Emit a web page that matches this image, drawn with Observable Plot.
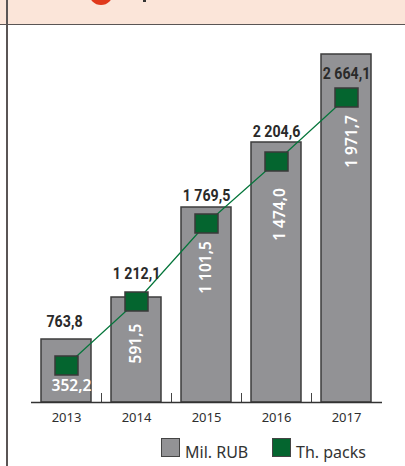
<!DOCTYPE html>
<html><head><meta charset="utf-8">
<script src="https://cdn.jsdelivr.net/npm/d3@7"></script>
<script src="https://cdn.jsdelivr.net/npm/@observablehq/plot@0.6"></script>
<style>
html,body{margin:0;padding:0;background:#fff;overflow:hidden}
#page{position:relative;width:405px;height:466px;overflow:hidden}
#band{position:absolute;left:0;top:0;width:405px;height:24px;background:#fbe5d9;border-bottom:1.5px solid #5a5555}
#vline{position:absolute;left:6px;top:0;width:1.5px;height:466px;background:#5a5555}
#dot{position:absolute;left:89px;top:-19px;width:24px;height:24px;border-radius:50%;background:#e0391c}
#cut{position:absolute;left:143px;top:0;width:3px;height:1.5px;background:#333}
#chart{position:absolute;left:0;top:0}
.lg{position:absolute;font:16px/20px "Noto Sans",sans-serif;color:#333;top:442px}
.sw{position:absolute;top:438px;width:19px;height:19px;box-sizing:border-box;border:1.5px solid #444}
</style></head><body>
<div id="page">
<div id="band"></div><div id="vline"></div><div id="dot"></div><div id="cut"></div>
<div id="chart"></div>
<div class="sw" style="left:161px;background:#929295"></div>
<div class="lg" style="left:185px;">Mil. RUB</div>
<div class="sw" style="left:272px;background:#04652f"></div>
<div class="lg" style="left:296px;">Th. packs</div>
</div>
<script>
const years = ["2013","2014","2015","2016","2017"];
const rubLabels = ["763,8","1 212,1","1 769,5","2 204,6","2 664,1"];
const packLabels = ["352,2","591,5","1 101,5","1 474,0","1 971,7"];
// Heights as drawn in the picture (the original's bars are not proportional to their labels)
const barDrawn = [63,105,195,260,348];
const packDrawn = [37,101,179,241,305];
const rubLabelDrawn = [81,129,207,271,329];
const packLabelDrawn = [16,59,135,188,261];
const rubShift = [-2,0,0,0,0];
const packShift = [5,0,0,4,6];

const rows = years.map((year,i)=>({year,i,rub:barDrawn[i],pack:packDrawn[i],rubLabel:rubLabels[i],packLabel:packLabels[i],rubY:rubLabelDrawn[i],packY:packLabelDrawn[i]}));
const boxSymbol = {draw(ctx){ctx.rect(-11.5,-9.5,23,19);}};
const boldFont = {className:"rub",fontFamily:"Roboto,sans-serif",fontWeight:"bold",fontSize:16.5,fill:"#2a2a2a"};
const whiteFont = {fontFamily:"'Noto Sans',sans-serif",fontSize:15.5,fill:"#fff",fontWeight:600};

const plot = Plot.plot({
  width:405,height:466,marginTop:0,marginBottom:0,marginLeft:0,marginRight:0,
  style:{background:"transparent"},
  x:{type:"band",domain:years,range:[31,381],paddingInner:20/70,paddingOuter:10/70,align:0.5,axis:null},
  y:{domain:[0,402],range:[402,0],axis:null},
  marks:[
    Plot.barY(rows,{x:"year",y:"rub",fill:"#929295",stroke:"#3d3d3d",strokeWidth:1.5}),
    Plot.ruleX(years.slice(0,4),{x:d=>d,dx:35,y1:0,y2:9,stroke:"#444",strokeWidth:1}),
    Plot.ruleY([0],{insetLeft:31,insetRight:23,stroke:"#333",strokeWidth:1.5}),
    Plot.lineY(rows,{x:"year",y:"pack",stroke:"#04753a",strokeWidth:1.2}),
    Plot.dot(rows,{x:"year",y:"pack",symbol:()=>boxSymbol,fill:"#04652f",stroke:"#3a3a3a",strokeWidth:1.5,r:5}),
    ...rows.map(r=>Plot.text([r],{x:"year",y:"rubY",dx:rubShift[r.i],text:"rubLabel",...boldFont})),
    ...rows.map(r=>Plot.text([r],{x:"year",y:"packY",dx:packShift[r.i],text:"packLabel",rotate:r.i?-90:0,...whiteFont})),
    Plot.text(years,{x:d=>d,y:0,dy:15,text:d=>d,fontFamily:"'Noto Sans',sans-serif",fontSize:13,fill:"#2e2e2e"})
  ]
});
document.getElementById("chart").appendChild(plot);
// Narrow the bold value labels to the condensed width of the original lettering
d3.select(plot).selectAll(".rub text").each(function(){
  const w=this.getComputedTextLength();
  this.setAttribute("textLength",(w*0.86).toFixed(1));
  this.setAttribute("lengthAdjust","spacingAndGlyphs");
});
</script>
</body></html>
